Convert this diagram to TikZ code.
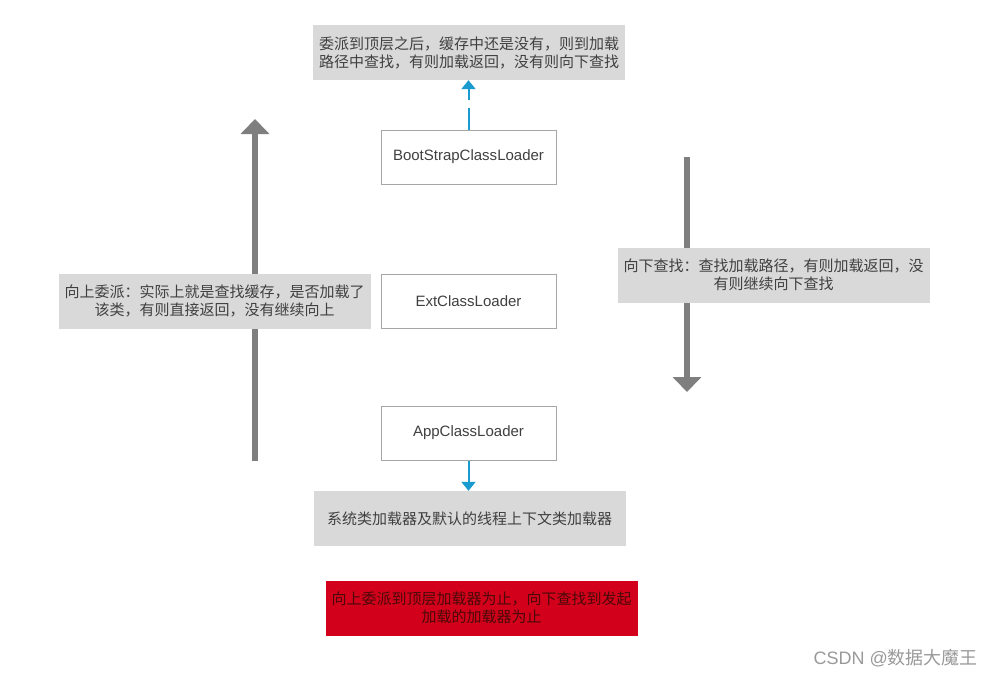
\documentclass[tikz,border=0pt]{standalone}
\usepackage{fontspec}
\setmainfont{Liberation Sans}
\newfontfamily\cjk{Noto Sans CJK SC}
\usetikzlibrary{arrows.meta}
\definecolor{boxgray}{HTML}{D9D9D9}
\definecolor{txt}{HTML}{404040}
\definecolor{edge}{HTML}{A6A6A6}
\definecolor{bigarrow}{HTML}{7F7F7F}
\definecolor{blueline}{HTML}{1A9BD0}
\definecolor{redbox}{HTML}{D2001A}
\definecolor{redtxt}{HTML}{4A0A0A}
\tikzset{
  x=1pt,y=-1pt,
  loader/.style={draw=edge,line width=1pt,fill=white,minimum width=175pt,minimum height=54pt,inner sep=0pt,text=txt,font=\fontsize{15}{18}\selectfont},
  note/.style={fill=boxgray,minimum width=312pt,minimum height=55pt,inner sep=0pt,align=center,text=txt,font=\cjk\fontsize{15}{18}\selectfont},
  warn/.style={note,fill=redbox,text=redtxt},
  bigup/.style={draw=bigarrow,line width=6pt,-{Triangle[width=28pt,length=15pt]}},
  bluearrow/.style={draw=blueline,line width=2pt,-{Triangle[width=14pt,length=9pt]}}
}
\begin{document}
\begin{tikzpicture}
\useasboundingbox (0,0) rectangle (995,677);
% big gray arrows (behind text boxes)
\coordinate (upS) at (255,461);
\coordinate (upE) at (255,119);
\coordinate (dnS) at (687,157);
\coordinate (dnE) at (687,392);
\draw[bigup] (upS) -- (upE);
\draw[bigup] (dnS) -- (dnE);
% notes
\node[note] (top) at (469,52.5) {委派到顶层之后，缓存中还是没有，则到加载\\路径中查找，有则加载返回，没有则向下查找};
\node[note] (left) at (214.5,301) {向上委派：实际上就是查找缓存，是否加载了\\该类，有则直接返回，没有继续向上};
\node[note] (right) at (773.5,275) {向下查找：查找加载路径，有则加载返回，没\\有则继续向下查找};
\node[note] (bottom) at (469.5,518.5) {系统类加载器及默认的线程上下文类加载器};
\node[warn] (red) at (481.5,608) {向上委派到顶层加载器为止，向下查找到发起\\加载的加载器为止};
% loaders
\node[loader] (boot) at (468.5,157) {BootStrapClassLoader};
\node[loader] (ext) at (468.5,301) {ExtClassLoader};
\node[loader] (app) at (468.5,433) {AppClassLoader};
% blue connectors
\draw[bluearrow,dash pattern=on 22pt off 8pt] (boot.north) -- (boot.north |- top.south);
\draw[bluearrow] (app.south) -- (app.south |- bottom.north);
% watermark
\node[anchor=east,inner sep=0pt,text=black!40,font=\fontsize{18}{21}\selectfont] (wm) at (978,658) {CSDN @{\cjk 数据大魔王}};
\end{tikzpicture}
\end{document}
